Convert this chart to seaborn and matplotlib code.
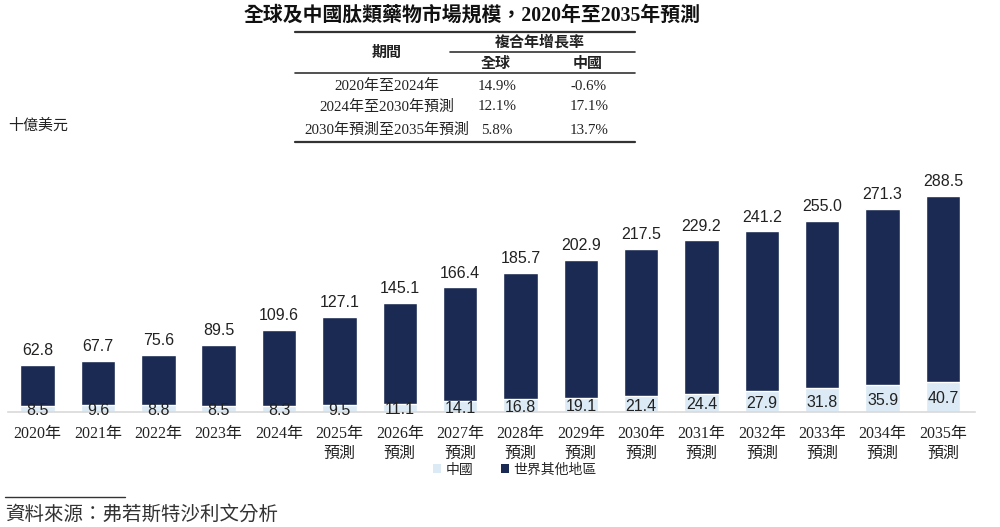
import numpy as np
import pandas as pd
import matplotlib
matplotlib.use("Agg")
import matplotlib.pyplot as plt
import seaborn as sns
from matplotlib.patches import Patch
from matplotlib.lines import Line2D

years = ["2020年", "2021年", "2022年", "2023年", "2024年", "2025年", "2026年", "2027年",
         "2028年", "2029年", "2030年", "2031年", "2032年", "2033年", "2034年", "2035年"]
forecast = [False] * 5 + [True] * 11
total = [62.8, 67.7, 75.6, 89.5, 109.6, 127.1, 145.1, 166.4,
         185.7, 202.9, 217.5, 229.2, 241.2, 255.0, 271.3, 288.5]
china = [8.5, 9.6, 8.8, 8.5, 8.3, 9.5, 11.1, 14.1,
         16.8, 19.1, 21.4, 24.4, 27.9, 31.8, 35.9, 40.7]

cagr_periods = ["2020年至2024年", "2024年至2030年預測", "2030年預測至2035年預測"]
cagr_global = ["14.9%", "12.1%", "5.8%"]
cagr_china = ["-0.6%", "17.1%", "13.7%"]

labels = [y + ("\n預測" if f else "") for y, f in zip(years, forecast)]
df = pd.DataFrame({"label": labels, "total": total, "china": china})

sns.set_theme(style="white")
SERIF = ["Liberation Serif", "Noto Sans CJK TC"]
SANS = ["Liberation Sans", "Noto Sans CJK TC"]
plt.rcParams["font.family"] = SERIF

dark = "#1b2a52"
light = "#dbeaf4"
W, H = 1000, 527

fig = plt.figure(figsize=(10, 5.27), dpi=100)


def fx(x):
    return x / W


def fy(y):
    return 1 - y / H


ax = fig.add_axes([fx(8), fy(412), fx(975) - fx(8), (412 - 180) / H])
sns.barplot(data=df, x="label", y="total", color=dark, width=0.57, saturation=1, ax=ax)
sns.barplot(data=df, x="label", y="china", color=light, width=0.57, saturation=1, ax=ax)
ax.set_ylim(0, 310)
ax.set_xlim(-0.49, 15.53)
ax.set_xlabel("")
ax.set_ylabel("")
ax.set_yticks([])
for s in ["top", "left", "right"]:
    ax.spines[s].set_visible(False)
ax.spines["bottom"].set_color("#d9d9d9")
ax.spines["bottom"].set_linewidth(1.2)
ax.tick_params(axis="x", length=0, pad=10)
for t in ax.get_xticklabels():
    t.set_fontfamily(SERIF)
    t.set_fontsize(11.5)
    t.set_color("#222222")
    t.set_linespacing(1.35)

for i, (t, c) in enumerate(zip(total, china)):
    ax.annotate(f"{t:.1f}", (i, t), xytext=(0, 5), textcoords="offset points",
                ha="center", va="bottom", fontsize=11.5, family=SANS, color="#222222")
    ax.annotate(f"{c:.1f}", (i, c / 2), xytext=(0, -1.5), textcoords="offset points",
                ha="center", va="center", fontsize=11.5, family=SANS, color="#222222")

# title
fig.text(fx(472), fy(16), "全球及中國肽類藥物市場規模，2020年至2035年預測", ha="center", va="center",
         fontsize=14.3, fontweight="bold", family=SERIF, color="#111111")

# CAGR table
def hline(x0, x1, y, lw):
    fig.add_artist(Line2D([fx(x0), fx(x1)], [fy(y), fy(y)], color="#333333", lw=lw))


hline(295, 635, 32, 1.6)
hline(450, 635, 52, 1.2)
hline(295, 635, 73, 1.2)
hline(295, 635, 142, 1.6)
tk = dict(ha="center", va="center", fontsize=10.8, family=SERIF, color="#222222")
fig.text(fx(540), fy(42), "複合年增長率", fontweight="bold", **tk)
fig.text(fx(387), fy(53), "期間", fontweight="bold", **tk)
fig.text(fx(496), fy(64), "全球", fontweight="bold", **tk)
fig.text(fx(588), fy(64), "中國", fontweight="bold", **tk)
for j, (p, g, c) in enumerate(zip(cagr_periods, cagr_global, cagr_china)):
    yy = [86, 107, 130][j]
    fig.text(fx(387), fy(yy), p, **tk)
    fig.text(fx(497), fy(yy), g, **tk)
    fig.text(fx(589), fy(yy), c, **tk)

fig.text(fx(8), fy(126), "十億美元", ha="left", va="center", fontsize=10.8, family=SERIF, color="#222222")

# legend
handles = [Patch(facecolor=light, edgecolor="none", label="中國"),
           Patch(facecolor=dark, edgecolor="none", label="世界其他地區")]
fig.legend(handles=handles, loc="center", bbox_to_anchor=(fx(515), fy(470)), ncol=2, frameon=False,
           handlelength=0.6, handleheight=0.6, handletextpad=0.3, columnspacing=2.0,
           prop={"family": SERIF, "size": 10})

# source
hline(5, 125, 497, 1.0)
fig.text(fx(5), fy(514), "資料來源：弗若斯特沙利文分析", ha="left", va="center", fontsize=14,
         family=SERIF, color="#333333", style="italic")

fig.savefig("out.png", dpi=100)
